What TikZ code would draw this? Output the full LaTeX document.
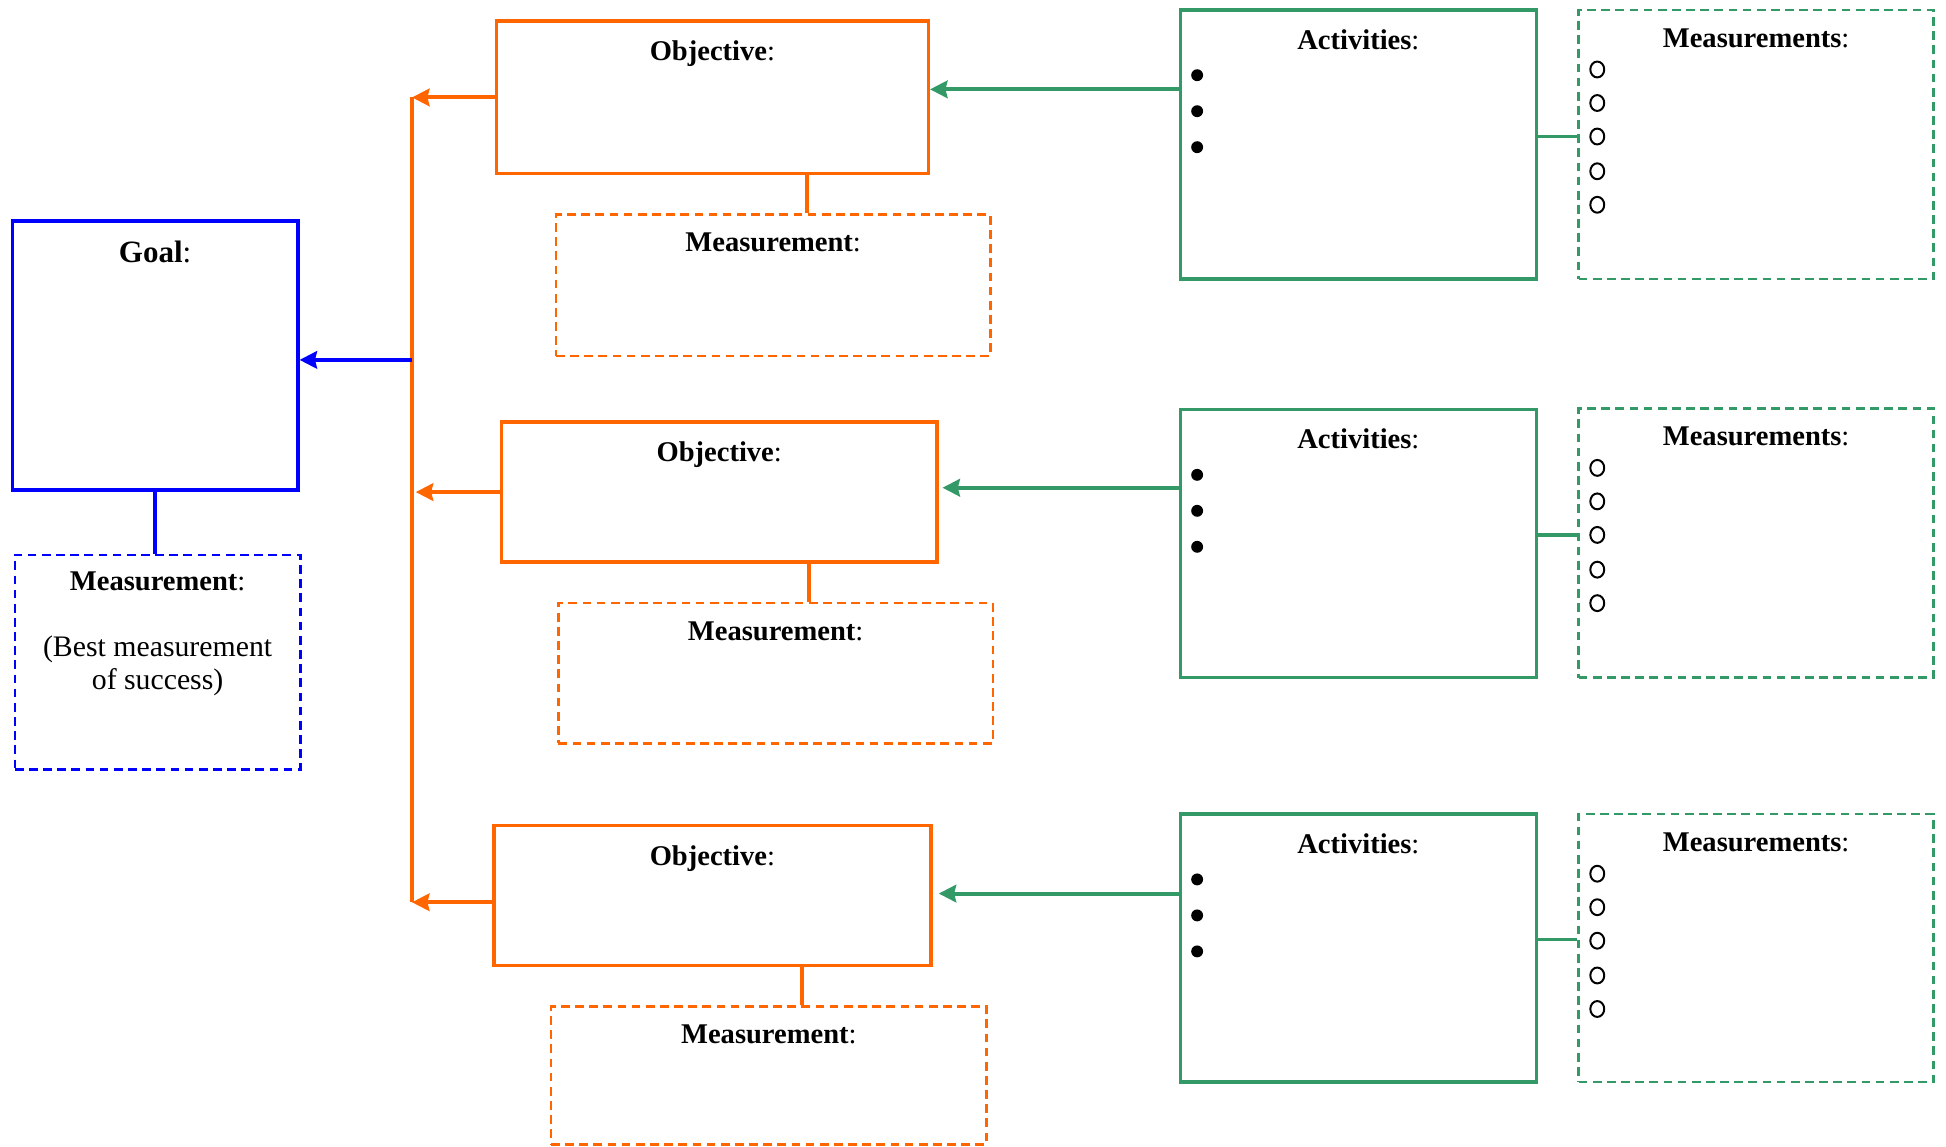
\documentclass[tikz,border=0pt]{standalone}
\usepackage{fontspec}
\setmainfont{Liberation Serif}
\usetikzlibrary{arrows.meta,calc}
\definecolor{goalblue}{RGB}{0,0,255}
\definecolor{objorange}{RGB}{255,102,0}
\definecolor{actgreen}{RGB}{51,153,102}

\begin{document}
\begin{tikzpicture}[x=0.5pt,y=-0.5pt,
  box/.style={draw,line width=1.4pt,inner sep=0pt},
  dbox/.style={draw,line width=1pt,dash pattern=on 3.5pt off 2.2pt,inner sep=0pt},
  sz/.style 2 args={minimum width=#1pt,minimum height=#2pt},
  title/.style={anchor=base,inner sep=0pt,font=\fontsize{11.5}{13}\selectfont},
  link/.style={line width=1.6pt},
  arrowto/.style={line width=1.6pt,-{Stealth[length=7pt,width=7pt,inset=0.8pt]}}]
%set diagram size
\useasboundingbox (0,0) rectangle (1568,924);

%Goal
\node[box,draw=goalblue,sz={115}{108.5}] (goal) at (125,286.5) {};
\node[dbox,draw=goalblue,sz={115}{86.5}] (goalm) at (127,533.5) {};
%Objectives
\node[box,draw=objorange,sz={174}{61.5}] (obj1) at (574,78.5) {};
\node[dbox,draw=objorange,sz={175}{57}] (objm1) at (623,230) {};
\node[box,draw=objorange,sz={175.5}{56.5}] (obj2) at (579.5,396.5) {};
\node[dbox,draw=objorange,sz={175}{56.5}] (objm2) at (625,542.5) {};
\node[box,draw=objorange,sz={176}{56.5}] (obj3) at (574,721.5) {};
\node[dbox,draw=objorange,sz={175.5}{55.5}] (objm3) at (619.5,866.5) {};
%Activities
\node[box,draw=actgreen,sz={143.5}{108.5}] (act1) at (1094.5,116.5) {};
\node[dbox,draw=actgreen,sz={143}{108.5}] (actm1) at (1415,116.5) {};
\node[box,draw=actgreen,sz={143.5}{108}] (act2) at (1094.5,438) {};
\node[dbox,draw=actgreen,sz={143}{108.5}] (actm2) at (1415,437.5) {};
\node[box,draw=actgreen,sz={143.5}{108}] (act3) at (1094.5,764) {};
\node[dbox,draw=actgreen,sz={143}{108}] (actm3) at (1415,764) {};

% Text Node
\node[title,font=\fontsize{12.5}{15}\selectfont] (goalt) at ($(goal.north)+(0,35)$) {\textbf{Goal}:};
% Text Node
\node[title] (goalmt) at ($(goalm.north)+(0,30)$) {\textbf{Measurement}:};
% Text Node
\node[align=center,inner sep=0pt,font=\fontsize{12}{13.5}\selectfont] (goalmb) at (127,536.5) {(Best measurement\\of success)};

\foreach \i in {1,2,3}{
  % Text Node
  \node[title] (objt\i) at ($(obj\i.north)+(0,33.5)$) {\textbf{Objective}:};
  \node[title] (objmt\i) at ($(objm\i.north)+(0,31)$) {\textbf{Measurement}:};
  \node[title] (actt\i) at ($(act\i.north)+(0,33)$) {\textbf{Activities}:};
  \node[title] (actmt\i) at ($(actm\i.north)+(0,31)$) {\textbf{Measurements}:};
  %bullets and rings
  \foreach \k in {54,83,112}
    \fill ($(act\i.north west)+(15,\k)$) circle (2.4pt);
  \foreach \k in {49,76,103,131,158}
    \draw[line width=0.8pt] ($(actm\i.north west)+(16,\k)$) ellipse [x radius=2.8pt,y radius=3.2pt];
}

%Straight Lines
\coordinate (ttop) at (332,78);
\coordinate (tbot) at (332,727);
\draw[link,objorange] (ttop) -- (tbot);
\draw[arrowto,objorange] (obj1.west) -- (obj1.west -| ttop);
\draw[arrowto,objorange] (obj2.west) -- ([xshift=1.5pt]obj2.west -| ttop);
\draw[arrowto,objorange] ([yshift=-2.75pt]obj3.west) coordinate (o3) -- (o3 -| ttop);
\coordinate (gin) at ([yshift=-1.75pt]goal.east);
\draw[arrowto,goalblue] (gin -| ttop) -- (gin);
\draw[link,goalblue] (goal.south) -- (goal.south |- goalm.north);
%Straight Lines
\draw[link,objorange] ([xshift=13.5pt]objm1.north) coordinate (c1) -- (c1 |- obj1.south);
\draw[link,objorange] ([xshift=13.5pt]objm2.north) coordinate (c2) -- (c2 |- obj2.south);
\draw[link,objorange] ([xshift=13.25pt]objm3.north) coordinate (c3) -- (c3 |- obj3.south);
%Straight Lines
\draw[arrowto,actgreen] ([yshift=22.25pt]act1.west) coordinate (a1) -- (a1 -| obj1.east);
\draw[arrowto,actgreen,shorten >=1.5pt] ([yshift=22.5pt]act2.west) coordinate (a2) -- (a2 -| obj2.east);
\draw[arrowto,actgreen,shorten >=2.5pt] ([yshift=22pt]act3.west) coordinate (a3) -- (a3 -| obj3.east);
\draw[link,actgreen] ([yshift=3.25pt]act1.east) coordinate (m1) -- (m1 -| actm1.west);
\draw[link,actgreen] ([yshift=3.5pt]act2.east) coordinate (m2) -- (m2 -| actm2.west);
\draw[link,actgreen] ([yshift=3.5pt]act3.east) coordinate (m3) -- (m3 -| actm3.west);

\end{tikzpicture}
\end{document}
